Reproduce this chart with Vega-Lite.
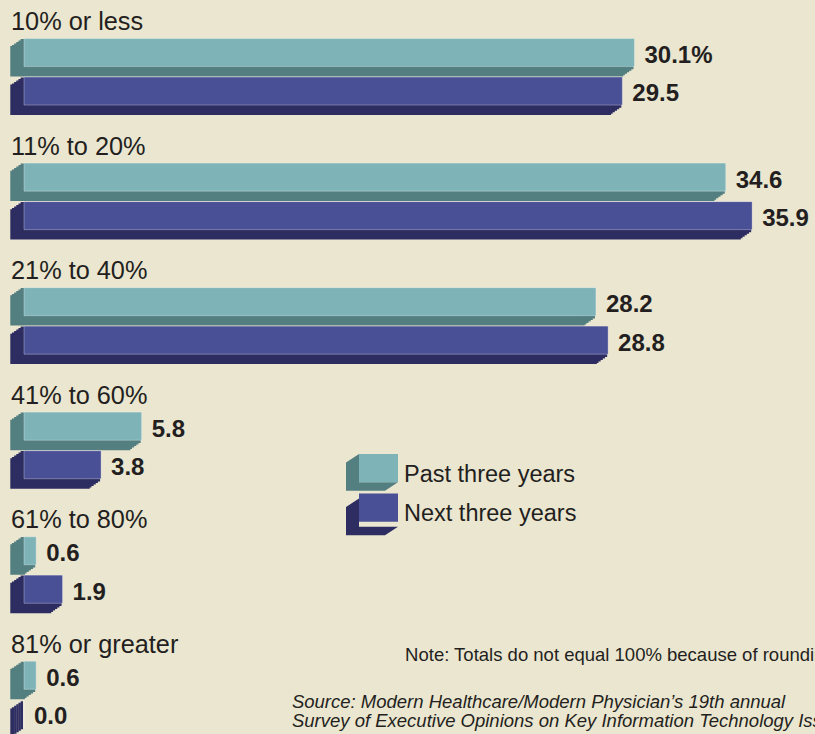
{
  "$schema": "https://vega.github.io/schema/vega-lite/v6.json",
  "width": 791,
  "height": 734,
  "autosize": {"type": "none"},
  "padding": {"left": 24, "top": 0, "right": 0, "bottom": 0},
  "background": "#ebe6d0",
  "config": {"view": {"stroke": null}, "font": "Liberation Sans"},
  "data": {"values": [
    {"group": "10% or less", "series": "Past three years", "value": 30.1, "label": "30.1%"},
    {"group": "10% or less", "series": "Next three years", "value": 29.5, "label": "29.5"},
    {"group": "11% to 20%", "series": "Past three years", "value": 34.6, "label": "34.6"},
    {"group": "11% to 20%", "series": "Next three years", "value": 35.9, "label": "35.9"},
    {"group": "21% to 40%", "series": "Past three years", "value": 28.2, "label": "28.2"},
    {"group": "21% to 40%", "series": "Next three years", "value": 28.8, "label": "28.8"},
    {"group": "41% to 60%", "series": "Past three years", "value": 5.8, "label": "5.8"},
    {"group": "41% to 60%", "series": "Next three years", "value": 3.8, "label": "3.8"},
    {"group": "61% to 80%", "series": "Past three years", "value": 0.6, "label": "0.6"},
    {"group": "61% to 80%", "series": "Next three years", "value": 1.9, "label": "1.9"},
    {"group": "81% or greater", "series": "Past three years", "value": 0.6, "label": "0.6"},
    {"group": "81% or greater", "series": "Next three years", "value": 0.0, "label": "0.0"}
  ]},
  "encoding": {
    "y": {"field": "group", "type": "nominal", "axis": null,
      "scale": {"type": "band", "domain": ["10% or less", "11% to 20%", "21% to 40%", "41% to 60%", "61% to 80%", "81% or greater"], "range": [0, 747.3], "paddingInner": 0, "paddingOuter": 0}},
    "x": {"field": "value", "type": "quantitative", "axis": null, "stack": null,
      "scale": {"domain": [0, 39], "nice": false, "zero": true}}
  },
  "layer": [
    {"transform": [{"filter": "datum.series === 'Past three years'"}],
     "mark": {"type": "bar", "height": 28, "xOffset": -2.17, "x2Offset": -2.17, "yOffset": -8.2, "strokeWidth": 2.4},
     "encoding": {
       "x2": {"datum": 0},
       "fill": {"field": "series", "type": "nominal", "scale": {"domain": ["Next three years", "Past three years"], "range": ["#2e2d62", "#537f80"]},
         "legend": {"orient": "none", "legendX": 322, "legendY": 448.5, "title": null, "padding": 0, "values": ["Past three years", "Next three years"], "symbolType": "M-0.5,-0.788L-1,-0.461L-1,0.627L0.5,0.627L1,0.3L-0.5,0.3Z", "symbolSize": 2704, "symbolStrokeWidth": 0, "symbolOpacity": 1, "labelExpr": "''", "labelFontSize": 23.5, "labelOffset": 6, "rowPadding": 1.5}},
       "stroke": {"field": "series", "type": "nominal", "scale": {"domain": ["Next three years", "Past three years"], "range": ["#2e2d62", "#537f80"]}, "legend": null}
     }},
    {"transform": [{"filter": "datum.series === 'Past three years'"}],
     "mark": {"type": "bar", "height": 28, "xOffset": -4.33, "x2Offset": -4.33, "yOffset": -6.7, "strokeWidth": 2.4},
     "encoding": {"x2": {"datum": 0}, "fill": {"field": "series", "type": "nominal", "legend": null}, "stroke": {"field": "series", "type": "nominal", "legend": null}}},
    {"transform": [{"filter": "datum.series === 'Past three years'"}],
     "mark": {"type": "bar", "height": 28, "xOffset": -6.5, "x2Offset": -6.5, "yOffset": -5.2, "strokeWidth": 2.4},
     "encoding": {"x2": {"datum": 0}, "fill": {"field": "series", "type": "nominal", "legend": null}, "stroke": {"field": "series", "type": "nominal", "legend": null}}},
    {"transform": [{"filter": "datum.series === 'Past three years'"}],
     "mark": {"type": "bar", "height": 28, "xOffset": -8.67, "x2Offset": -8.67, "yOffset": -3.7, "strokeWidth": 2.4},
     "encoding": {"x2": {"datum": 0}, "fill": {"field": "series", "type": "nominal", "legend": null}, "stroke": {"field": "series", "type": "nominal", "legend": null}}},
    {"transform": [{"filter": "datum.series === 'Past three years'"}],
     "mark": {"type": "bar", "height": 28, "xOffset": -10.83, "x2Offset": -10.83, "yOffset": -2.2, "strokeWidth": 2.4},
     "encoding": {"x2": {"datum": 0}, "fill": {"field": "series", "type": "nominal", "legend": null}, "stroke": {"field": "series", "type": "nominal", "legend": null}}},
    {"transform": [{"filter": "datum.series === 'Past three years'"}],
     "mark": {"type": "bar", "height": 28, "xOffset": -12.5, "x2Offset": -12.5, "yOffset": -1.0, "strokeWidth": 2.4},
     "encoding": {"x2": {"datum": 0}, "fill": {"field": "series", "type": "nominal", "legend": null}, "stroke": {"field": "series", "type": "nominal", "legend": null}}},
    {"transform": [{"filter": "datum.series === 'Next three years'"}],
     "mark": {"type": "bar", "height": 28, "xOffset": -2.17, "x2Offset": -2.17, "yOffset": 30.3, "strokeWidth": 2.4},
     "encoding": {"x2": {"datum": 0}, "fill": {"field": "series", "type": "nominal", "legend": null}, "stroke": {"field": "series", "type": "nominal", "legend": null}}},
    {"transform": [{"filter": "datum.series === 'Next three years'"}],
     "mark": {"type": "bar", "height": 28, "xOffset": -4.33, "x2Offset": -4.33, "yOffset": 31.8, "strokeWidth": 2.4},
     "encoding": {"x2": {"datum": 0}, "fill": {"field": "series", "type": "nominal", "legend": null}, "stroke": {"field": "series", "type": "nominal", "legend": null}}},
    {"transform": [{"filter": "datum.series === 'Next three years'"}],
     "mark": {"type": "bar", "height": 28, "xOffset": -6.5, "x2Offset": -6.5, "yOffset": 33.3, "strokeWidth": 2.4},
     "encoding": {"x2": {"datum": 0}, "fill": {"field": "series", "type": "nominal", "legend": null}, "stroke": {"field": "series", "type": "nominal", "legend": null}}},
    {"transform": [{"filter": "datum.series === 'Next three years'"}],
     "mark": {"type": "bar", "height": 28, "xOffset": -8.67, "x2Offset": -8.67, "yOffset": 34.8, "strokeWidth": 2.4},
     "encoding": {"x2": {"datum": 0}, "fill": {"field": "series", "type": "nominal", "legend": null}, "stroke": {"field": "series", "type": "nominal", "legend": null}}},
    {"transform": [{"filter": "datum.series === 'Next three years'"}],
     "mark": {"type": "bar", "height": 28, "xOffset": -10.83, "x2Offset": -10.83, "yOffset": 36.3, "strokeWidth": 2.4},
     "encoding": {"x2": {"datum": 0}, "fill": {"field": "series", "type": "nominal", "legend": null}, "stroke": {"field": "series", "type": "nominal", "legend": null}}},
    {"transform": [{"filter": "datum.series === 'Next three years'"}],
     "mark": {"type": "bar", "height": 28, "xOffset": -12.5, "x2Offset": -12.5, "yOffset": 37.5, "strokeWidth": 2.4},
     "encoding": {"x2": {"datum": 0}, "fill": {"field": "series", "type": "nominal", "legend": null}, "stroke": {"field": "series", "type": "nominal", "legend": null}}},
    {"transform": [{"filter": "datum.series === 'Past three years'"}],
     "mark": {"type": "bar", "height": 28, "yOffset": -9.7, "stroke": "#ffffff", "strokeOpacity": 0.3, "strokeWidth": 1},
     "encoding": {
       "color": {"field": "series", "type": "nominal", "scale": {"domain": ["Past three years", "Next three years"], "range": ["#7eb4b7", "#4a5096"]},
         "legend": {"orient": "none", "legendX": 322, "legendY": 448.5, "title": null, "padding": 0, "symbolType": "M-0.5,-0.788L1,-0.788L1,0.3L-0.5,0.3Z", "symbolSize": 2704, "symbolStrokeWidth": 0, "symbolOpacity": 1, "labelFont": "Liberation Sans", "labelFontSize": 23.5, "labelColor": "#231f20", "labelOffset": 6, "rowPadding": 1.5, "labelLimit": 0}}
     }},
    {"transform": [{"filter": "datum.series === 'Next three years'"}],
     "mark": {"type": "bar", "height": 28, "yOffset": 28.8, "stroke": "#ffffff", "strokeOpacity": 0.3, "strokeWidth": 1},
     "encoding": {"color": {"field": "series", "type": "nominal"}}},
    {"transform": [{"filter": "datum.series === 'Past three years'"}],
     "mark": {"type": "text", "align": "left", "baseline": "alphabetic", "dx": -13, "dy": -32.2, "fontSize": 25.3, "color": "#231f20"},
     "encoding": {"x": {"datum": 0}, "text": {"field": "group"}}},
    {"transform": [{"filter": "datum.series === 'Past three years'"}],
     "mark": {"type": "text", "align": "left", "baseline": "middle", "dx": 10, "dy": -6.3, "fontSize": 24, "fontWeight": "bold", "color": "#231f20"},
     "encoding": {"text": {"field": "label"}}},
    {"transform": [{"filter": "datum.series === 'Next three years'"}],
     "mark": {"type": "text", "align": "left", "baseline": "middle", "dx": 10, "dy": 32.2, "fontSize": 24, "fontWeight": "bold", "color": "#231f20"},
     "encoding": {"text": {"field": "label"}}},
    {"transform": [{"filter": "datum.series === 'Past three years' && datum.group === '81% or greater'"}],
     "mark": {"type": "text", "align": "left", "baseline": "alphabetic", "dy": -24.3, "fontSize": 18.5, "color": "#231f20", "text": "Note: Totals do not equal 100% because of rounding."},
     "encoding": {"x": {"datum": 18.79}}},
    {"transform": [{"filter": "datum.series === 'Past three years' && datum.group === '81% or greater'"}],
     "mark": {"type": "text", "align": "left", "baseline": "alphabetic", "dy": 23.3, "fontSize": 18.5, "fontStyle": "italic", "lineHeight": 19, "color": "#231f20", "text": ["Source:  Modern Healthcare/Modern Physician’s 19th annual", "Survey of Executive Opinions on Key Information Technology Issues"]},
     "encoding": {"x": {"datum": 13.21}}}
  ]
}
